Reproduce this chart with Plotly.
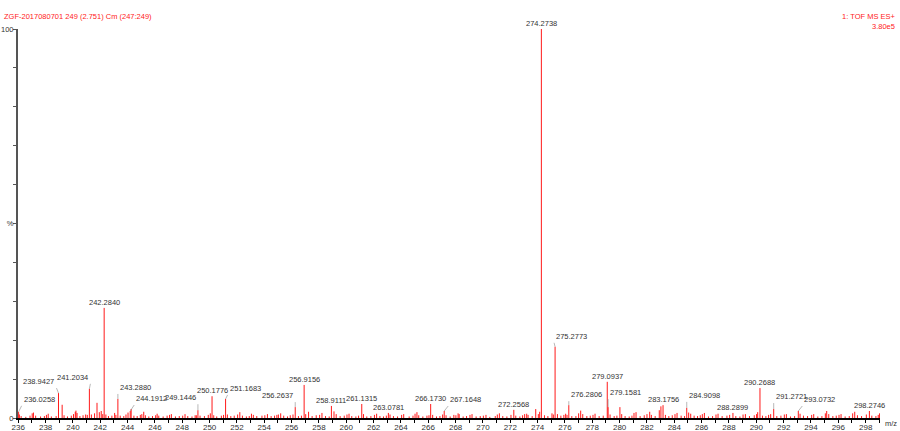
import plotly.graph_objects as go

# labelled peaks (m/z, relative intensity %)
peak_mz = [236.0258, 238.9427, 241.2034, 242.2840, 243.2880, 244.1912, 249.1446,
           250.1776, 251.1683, 256.2637, 256.9156, 258.9111, 261.1315, 263.0781,
           266.1730, 267.1648, 272.2568, 274.2738, 275.2773, 276.2806, 279.0937,
           279.1581, 283.1756, 284.9098, 288.2899, 290.2688, 291.2721, 293.0732,
           298.2746]
peak_int = [1.6, 6.4, 7.5, 28.3, 4.9, 1.8, 2.0,
            5.6, 4.9, 2.8, 8.5, 3.1, 3.6, 1.3,
            3.6, 1.8, 2.1, 100.0, 18.3, 3.3, 9.3,
            2.8, 3.3, 2.6, 1.3, 7.7, 2.3, 1.8,
            1.8]

# unlabelled small peaks / noise
minor_mz = [236.08, 236.21, 236.55, 236.86, 237.02, 237.11, 237.27, 237.63, 237.91,
            238.06, 238.19, 238.42, 238.77, 239.21, 239.35, 239.60, 239.88,
            240.04, 240.17, 240.22, 240.30, 240.51, 240.74, 240.93,
            241.05, 241.35, 241.58, 241.76, 241.93, 242.07, 242.18, 242.41, 242.60, 242.85,
            243.05, 243.14, 243.46, 243.72, 243.88, 244.03, 244.26, 244.46, 244.70, 244.93,
            245.04, 245.18, 245.30, 245.55, 245.82, 246.05, 246.16, 246.28, 246.60, 246.89,
            247.07, 247.20, 247.50, 247.78, 248.03, 248.20, 248.40, 248.71, 248.94,
            249.03, 249.30, 249.62, 249.90, 250.05, 250.30, 250.52, 250.86,
            251.02, 251.30, 251.55, 251.80, 252.05, 252.21, 252.40, 252.69, 252.90,
            253.06, 253.20, 253.45, 253.83, 254.04, 254.23, 254.50, 254.75, 254.92,
            255.03, 255.20, 255.42, 255.70, 255.90, 256.10, 256.50, 256.72,
            257.03, 257.24, 257.50, 257.80, 258.05, 258.22, 258.48, 258.75,
            259.10, 259.26, 259.55, 259.85, 260.05, 260.20, 260.40, 260.70, 260.90,
            261.26, 261.50, 261.80, 262.06, 262.22, 262.46, 262.72, 262.93,
            263.20, 263.45, 263.75, 264.05, 264.20, 264.60, 264.88,
            265.03, 265.17, 265.30, 265.60, 265.90, 266.05, 266.32, 266.60, 266.85,
            267.05, 267.30, 267.60, 267.87, 268.02, 268.18, 268.26, 268.55, 268.80,
            269.05, 269.20, 269.50, 269.80, 270.03, 270.22, 270.50, 270.90,
            271.05, 271.20, 271.45, 271.75, 272.05, 272.40, 272.70, 272.90,
            273.05, 273.20, 273.30, 273.60, 273.86, 274.05, 274.15, 274.50, 274.75,
            275.05, 275.15, 275.45, 275.70, 275.92, 276.05, 276.15, 276.50, 276.80,
            277.00, 277.15, 277.30, 277.60, 277.85, 278.05, 278.20, 278.50, 278.80,
            279.30, 279.60, 279.80, 280.02, 280.15, 280.40, 280.70, 280.90,
            281.05, 281.20, 281.50, 281.80, 282.00, 282.20, 282.32, 282.60, 282.90,
            283.02, 283.35, 283.60, 283.85, 284.05, 284.20, 284.50, 284.75,
            285.05, 285.20, 285.45, 285.70, 285.90, 286.05, 286.20, 286.50, 286.80,
            287.05, 287.20, 287.50, 287.85, 288.05, 288.50, 288.80,
            289.03, 289.20, 289.50, 289.85, 290.02, 290.10, 290.45, 290.70, 290.90,
            291.05, 291.50, 291.80, 292.05, 292.20, 292.50, 292.80,
            293.20, 293.45, 293.75, 294.05, 294.20, 294.50, 294.80,
            295.05, 295.15, 295.30, 295.60, 295.85, 296.05, 296.20, 296.50, 296.80,
            297.05, 297.20, 297.40, 297.70, 298.05, 298.45, 298.75, 298.92,
            299.02]
minor_int = [0.9, 0.5, 0.3, 0.6, 1.2, 1.4, 0.6, 0.4, 0.5,
             0.8, 1.1, 0.4, 0.5, 3.4, 0.7, 0.4, 0.6,
             1.0, 1.6, 1.9, 1.3, 0.5, 0.7, 0.9,
             0.8, 0.9, 1.2, 3.9, 1.5, 1.8, 1.0, 0.9, 0.5, 0.6,
             1.3, 0.8, 0.6, 0.5, 0.9, 1.4, 2.3, 0.6, 0.5, 0.8,
             1.0, 1.6, 0.7, 0.4, 0.5, 0.7, 1.1, 0.6, 0.4, 0.6,
             0.8, 1.0, 0.4, 0.5, 0.6, 1.0, 0.5, 0.4, 0.7,
             0.7, 0.6, 0.5, 0.8, 1.2, 0.7, 0.4, 0.6,
             0.8, 0.9, 0.5, 0.6, 0.9, 1.5, 0.6, 0.4, 0.5,
             1.1, 0.8, 0.5, 0.6, 0.7, 1.0, 0.5, 0.6, 0.8,
             0.9, 1.2, 0.6, 0.4, 0.7, 0.9, 0.5, 0.6,
             1.0, 1.6, 0.5, 0.7, 0.8, 1.3, 0.5, 0.4,
             1.7, 1.0, 0.5, 0.6, 0.9, 1.1, 0.5, 0.4, 0.6,
             1.0, 0.4, 0.5, 0.8, 1.1, 0.5, 0.4, 0.6,
             0.9, 0.5, 0.4, 0.8, 1.0, 0.4, 0.6,
             1.1, 1.5, 0.7, 0.4, 0.6, 0.7, 0.8, 0.4, 0.5,
             0.9, 0.7, 0.4, 0.8, 0.7, 1.2, 1.0, 0.4, 0.5,
             0.8, 1.0, 0.4, 0.5, 0.6, 0.8, 0.3, 0.5,
             0.9, 1.2, 0.5, 0.4, 0.8, 0.6, 0.4, 0.7,
             1.0, 1.1, 0.8, 0.5, 2.3, 1.0, 1.6, 0.7, 0.5,
             1.2, 0.9, 1.0, 0.6, 0.8, 1.1, 0.8, 0.5, 0.5,
             1.2, 1.9, 1.0, 0.5, 0.6, 0.8, 1.1, 0.5, 0.6,
             0.9, 0.5, 0.6, 2.8, 1.0, 0.5, 0.4, 0.6,
             1.3, 1.5, 0.5, 0.7, 1.0, 1.6, 0.8, 0.5, 2.0,
             3.0, 0.8, 0.5, 0.7, 1.0, 1.3, 0.6, 0.5,
             1.4, 1.1, 0.6, 0.5, 0.7, 1.0, 1.3, 0.4, 0.5,
             0.9, 1.1, 0.5, 0.6, 0.8, 0.5, 0.4,
             0.9, 1.0, 0.5, 0.7, 1.0, 1.5, 0.6, 0.5, 0.8,
             1.0, 0.5, 0.6, 0.9, 1.0, 0.4, 0.5,
             1.1, 0.6, 0.5, 0.8, 1.0, 0.4, 0.5,
             1.2, 1.8, 1.0, 0.5, 0.6, 0.8, 1.0, 0.4, 0.5,
             1.2, 1.6, 0.7, 0.5, 0.9, 0.6, 0.5, 0.8,
             1.2]

x_ticks = list(range(236, 300, 2))

# leader-line labels: tail offset in px and anchor side
leaders = {
    236.0258: (3, -6, "left"),
    238.9427: (-2, -5, "right"),
    241.2034: (1, -5, "right"),
    243.2880: (0, -5, "left"),
    244.1912: (4, -6, "left"),
    249.1446: (0, -6, "right"),
    251.1683: (2, -4, "left"),
    256.2637: (0, -5, "right"),
    267.1648: (4, -5, "left"),
    275.2773: (-1, -4, "left"),
    276.2806: (0, -4, "left"),
    279.1581: (0, -8, "left"),
    284.9098: (0, -6, "left"),
    291.2721: (0, -6, "left"),
    293.0732: (4, -5, "left"),
}

FONT = "Liberation Sans, Arial, sans-serif"
RED = "#ff1a1a"


def stick_xy(mz, inten):
    """Turn a list of centroid peaks into a stick trace (x, y with gaps)."""
    xs, ys = [], []
    for m, h in zip(mz, inten):
        xs += [m, m, None]
        ys += [0, h, None]
    return xs, ys


all_mz = minor_mz + peak_mz
all_int = minor_int + peak_int
sx, sy = stick_xy(all_mz, all_int)

fig = go.Figure()
fig.add_trace(go.Scatter(x=sx, y=sy, mode="lines", line=dict(color=RED, width=1),
                         hoverinfo="skip", showlegend=False))

annotations = []
for m, h in zip(peak_mz, peak_int):
    txt = f"{m:.4f}"
    if m in leaders:
        ax, ay, side = leaders[m]
        annotations.append(dict(x=m, y=h, text=txt, showarrow=True, arrowhead=0,
                                arrowwidth=0.6, arrowcolor="#888888", ax=ax, ay=ay,
                                xanchor=side, yanchor="bottom", standoff=0,
                                font=dict(family=FONT, size=7.5, color="#333333")))
    else:
        annotations.append(dict(x=m, y=h, text=txt, showarrow=False,
                                xanchor="center", yanchor="bottom", yshift=-1,
                                font=dict(family=FONT, size=7.5, color="#333333")))

annotations += [
    dict(xref="paper", yref="paper", x=0, y=1, xshift=-16, yshift=13, xanchor="left",
         yanchor="middle", showarrow=False, text="ZGF-2017080701 249 (2.751) Cm (247:249)",
         font=dict(family=FONT, size=7.5, color=RED)),
    dict(xref="paper", yref="paper", x=1, y=1, xshift=17, yshift=13, xanchor="right",
         yanchor="middle", showarrow=False, text="1: TOF MS ES+",
         font=dict(family=FONT, size=7.5, color=RED)),
    dict(xref="paper", yref="paper", x=1, y=1, xshift=17, yshift=3, xanchor="right",
         yanchor="middle", showarrow=False, text="3.80e5",
         font=dict(family=FONT, size=7.5, color=RED)),
    dict(xref="paper", yref="paper", x=1, y=0, xshift=3, yshift=-5, xanchor="left",
         yanchor="middle", showarrow=False, text="m/z",
         font=dict(family=FONT, size=7.5, color="#333333")),
]

y_ticks = list(range(0, 101, 10))
y_text = ["0" if v == 0 else "%" if v == 50 else "100" if v == 100 else "" for v in y_ticks]

fig.update_layout(
    width=900, height=431,
    margin=dict(l=18, r=20, t=29, b=13),
    paper_bgcolor="white", plot_bgcolor="white",
    annotations=annotations,
    xaxis=dict(range=[235.98, 299.05], tickvals=x_ticks, showgrid=False, zeroline=False,
               showline=True, linecolor="black", linewidth=1.5,
               ticks="outside", ticklen=3, tickcolor="black", tickwidth=1,
               minor=dict(dtick=1, tick0=236, ticks="outside", ticklen=3, tickcolor="black"),
               ticklabelstandoff=-2,
               tickfont=dict(family=FONT, size=8, color="#333333"), automargin=False),
    yaxis=dict(range=[0, 100], tickvals=y_ticks, ticktext=y_text, showgrid=False,
               zeroline=False, showline=True, linecolor="#555555", linewidth=2,
               ticks="outside", ticklen=3, tickcolor="#555555", ticklabelstandoff=-2,
               tickfont=dict(family=FONT, size=7.5, color="#333333"), automargin=False),
)

# drop the default 8px body margin so the figure fills the window from (0, 0)
fig.write_html("out.html", config={"displayModeBar": False},
               post_script="document.body.style.margin = '0';")
